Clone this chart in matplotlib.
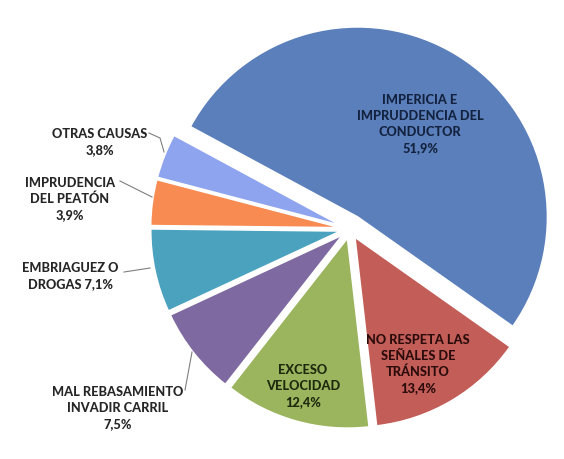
import matplotlib.pyplot as plt

# causas de accidentes de tránsito (%)
causas = ["IMPERICIA E\nIMPRUDDENCIA DEL\nCONDUCTOR",
          "OTRAS CAUSAS",
          "IMPRUDENCIA\nDEL PEATÓN",
          "EMBRIAGUEZ O\nDROGAS",
          "MAL REBASAMIENTO\nINVADIR CARRIL",
          "EXCESO\nVELOCIDAD",
          "NO RESPETA LAS\nSEÑALES DE\nTRÁNSITO"]
porcentajes = [51.9, 3.8, 3.9, 7.1, 7.5, 12.4, 13.4]
colores = ["#5b7fbb", "#8ea4ef", "#f88b52", "#4ba2bf", "#7f69a1", "#9bb45e", "#c25d58"]
separacion = [0.075, 0.05, 0.05, 0.05, 0.05, 0.05, 0.05]

plt.rcParams['font.family'] = ['Lato', 'DejaVu Sans']

fig = plt.figure(figsize=(5.64, 4.59), dpi=100)
ax = fig.add_axes([0, 0, 1, 1])

wedges, _ = ax.pie(porcentajes, colors=colores, startangle=-35.2, counterclock=True,
                   explode=separacion, radius=1.0,
                   wedgeprops=dict(edgecolor="white", linewidth=1.2))

# pie() resets the limits, so set them afterwards
ax.set_xlim(-1.842, 1.126)
ax.set_ylim(-1.2105, 1.2053)
ax.set_aspect('equal')
ax.axis('off')


def pct(v):
    return ("%.1f%%" % v).replace(".", ",")


def px(x, y):
    # pixel (from top-left) to data coordinates
    return (x - 350) / 190.0, (229 - y) / 190.0


estilo = dict(fontsize=9.2, fontweight="black", ha="center", va="center", linespacing=1.4)

# etiquetas dentro de los sectores grandes
ax.text(*px(420, 124), causas[0] + "\n" + pct(porcentajes[0]), color="#13223f", **estilo)
ax.text(*px(418, 364), causas[6] + "\n" + pct(porcentajes[6]), color="#2b0c0b", **estilo)
ax.text(*px(303, 386), causas[5] + "\n" + pct(porcentajes[5]), color="#1e2a0e", **estilo)

# etiquetas externas con líneas guía
gris = "#262626"
ax.text(*px(100, 142), causas[1] + "\n" + pct(porcentajes[1]), color=gris, **estilo)
ax.plot(*zip(px(149, 133), px(160, 138), px(164, 152)), color="#7f7f7f", lw=0.8)

ax.text(*px(70, 199), causas[2] + "\n" + pct(porcentajes[2]), color=gris, **estilo)
ax.plot(*zip(px(120, 181), px(152, 197)), color="#7f7f7f", lw=0.8)

ax.text(*px(70, 276), causas[3] + " " + pct(porcentajes[3]), color=gris, **estilo)
ax.plot(*zip(px(124, 272), px(150, 268)), color="#7f7f7f", lw=0.8)

ax.text(*px(118, 408), causas[4] + "\n" + pct(porcentajes[4]), color=gris, **estilo)
ax.plot(*zip(px(185, 390), px(192, 352)), color="#7f7f7f", lw=0.8)

fig.savefig("out.png", dpi=100, facecolor="white")
